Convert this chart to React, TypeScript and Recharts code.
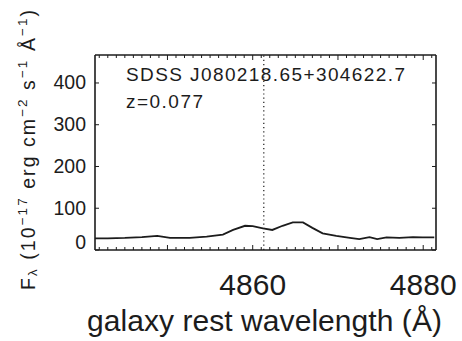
import React from 'react'
import {
  LineChart,
  Line,
  XAxis,
  YAxis,
  ReferenceLine,
  Customized,
} from 'recharts'

// Rest-frame spectrum around H-beta
const wavelength = [
  4841.5, 4843.0, 4845.0, 4847.0, 4848.8, 4850.3, 4852.6, 4854.6, 4856.5,
  4857.7, 4859.1, 4860.0, 4861.2, 4862.3, 4863.5, 4864.7, 4865.9, 4867.0,
  4868.2, 4869.8, 4871.4, 4872.5, 4873.7, 4874.6, 4875.7, 4877.2, 4878.8,
  4879.9, 4881.3,
]
const flux = [
  28, 28, 29, 31, 34, 29, 29, 32, 37,
  48, 58, 57, 52, 48, 58, 66, 66, 53,
  40, 34, 29, 26, 31, 26, 30, 29, 31,
  30, 30,
]

const xTickLabels = [4860, 4880]
const yTickValues = [0, 100, 200, 300, 400]
const objectName = 'SDSS J080218.65+304622.7'
const redshiftText = 'z=0.077'
const hBetaLine = 4861.3

const X_DOMAIN: [number, number] = [4841.5, 4881.5]
const Y_DOMAIN: [number, number] = [0, 467]
const FONT = '"Liberation Sans", Arial, sans-serif'
const INK = '#1c1c1c'

const data = wavelength.map((wl, i) => ({ wl, flux: flux[i] }))

// tick marks every 1 A, majors every 10 A
const xTickMarks: number[] = []
for (let v = Math.ceil(X_DOMAIN[0]); v <= X_DOMAIN[1]; v++) xTickMarks.push(v)

function BottomTick({ x, y, payload }: any) {
  const v = payload.value
  const len = v % 10 === 0 ? 5 : 3
  return (
    <g>
      <line x1={x} x2={x} y1={y} y2={y - len} stroke={INK} strokeWidth={1} />
      {xTickLabels.includes(v) && (
        <text x={x} y={y + 45} textAnchor="middle" fontSize={30} fontFamily={FONT} fill={INK}>
          {v}
        </text>
      )}
    </g>
  )
}

function TopTick({ x, y, payload }: any) {
  const len = payload.value % 10 === 0 ? 5 : 3
  return <line x1={x} x2={x} y1={y} y2={y + len} stroke={INK} strokeWidth={1} />
}

function LeftTick({ x, y, payload }: any) {
  const v = payload.value
  // IDL nudges the bottom label up off the x axis
  const dy = v === 0 ? -1 : 6.5
  return (
    <g>
      <line x1={x} x2={x + 4} y1={y} y2={y} stroke={INK} strokeWidth={1} />
      <text x={x - 9} y={y + dy} textAnchor="end" fontSize={19.5} fontFamily={FONT} fill={INK}>
        {v}
      </text>
    </g>
  )
}

function RightTick({ x, y }: any) {
  return <line x1={x} x2={x - 4} y1={y} y2={y} stroke={INK} strokeWidth={1} />
}

function XTitle({ viewBox }: any) {
  const cx = viewBox.x + viewBox.width / 2 - 1
  return (
    <text x={cx} y={viewBox.y + 81} textAnchor="middle" fontSize={30} fontFamily={FONT}
      fill={INK} textLength={355} lengthAdjust="spacing">
      galaxy rest wavelength (Å)
    </text>
  )
}

function YTitle() {
  const x = 35
  const y = 150
  const sup = { fontSize: 13.5 }
  return (
    <text x={x} y={y} transform={`rotate(-90, ${x}, ${y})`} textAnchor="middle" fontSize={19.5}
      fontFamily={FONT} fill={INK} textLength={280} lengthAdjust="spacing">
      F<tspan {...sup} dy={2}>λ</tspan>
      <tspan dy={-2}> (10</tspan>
      <tspan {...sup} dy={-8}>−17</tspan>
      <tspan dy={8}> erg cm</tspan>
      <tspan {...sup} dy={-8}>−2</tspan>
      <tspan dy={8}> s</tspan>
      <tspan {...sup} dy={-8}>−1</tspan>
      <tspan dy={8}> Å</tspan>
      <tspan {...sup} dy={-8}>−1</tspan>
      <tspan dy={8}>)</tspan>
    </text>
  )
}

function Annotations() {
  return (
    <g fontFamily={FONT} fontSize={19} fill={INK}>
      <text x={126} y={81} textLength={279} lengthAdjust="spacing">{objectName}</text>
      <text x={126} y={108} textLength={77} lengthAdjust="spacing">{redshiftText}</text>
    </g>
  )
}

export default function App() {
  const axisLine = { stroke: INK, strokeWidth: 1.6 }
  return (
    <div style={{ position: 'absolute', left: 0, top: 0, width: 462, height: 341, background: '#fff' }}>
      <LineChart width={462} height={341} data={data} margin={{ top: 54, right: 25, bottom: 0, left: 0 }}>
        <XAxis
          dataKey="wl"
          type="number"
          domain={X_DOMAIN}
          ticks={xTickMarks}
          interval={0}
          allowDataOverflow
          height={91}
          tickSize={0}
          tickMargin={0}
          tickLine={false}
          axisLine={axisLine}
          tick={<BottomTick />}
          label={{ content: (p: any) => <XTitle {...p} /> }}
        />
        <XAxis
          xAxisId="top"
          orientation="top"
          dataKey="wl"
          type="number"
          domain={X_DOMAIN}
          ticks={xTickMarks}
          interval={0}
          allowDataOverflow
          height={1}
          tickSize={0}
          tickMargin={0}
          tickLine={false}
          axisLine={axisLine}
          tick={<TopTick />}
        />
        <YAxis
          type="number"
          domain={Y_DOMAIN}
          ticks={yTickValues}
          interval={0}
          allowDataOverflow
          width={95}
          tickSize={0}
          tickMargin={0}
          tickLine={false}
          axisLine={axisLine}
          tick={<LeftTick />}
          label={{ content: () => <YTitle /> }}
        />
        <YAxis
          yAxisId="right"
          orientation="right"
          type="number"
          domain={Y_DOMAIN}
          ticks={yTickValues}
          interval={0}
          allowDataOverflow
          width={1}
          tickSize={0}
          tickMargin={0}
          tickLine={false}
          axisLine={axisLine}
          tick={<RightTick />}
        />
        <ReferenceLine x={hBetaLine} stroke={INK} strokeWidth={1.2} strokeDasharray="1.2 3" />
        <Line
          type="linear"
          dataKey="flux"
          stroke={INK}
          strokeWidth={1.8}
          dot={false}
          isAnimationActive={false}
        />
        {/* ties the top and right axes into the chart */}
        <Line
          xAxisId="top"
          yAxisId="right"
          dataKey="flux"
          stroke="none"
          dot={false}
          activeDot={false}
          legendType="none"
          isAnimationActive={false}
        />
        <Customized component={Annotations} />
      </LineChart>
    </div>
  )
}
